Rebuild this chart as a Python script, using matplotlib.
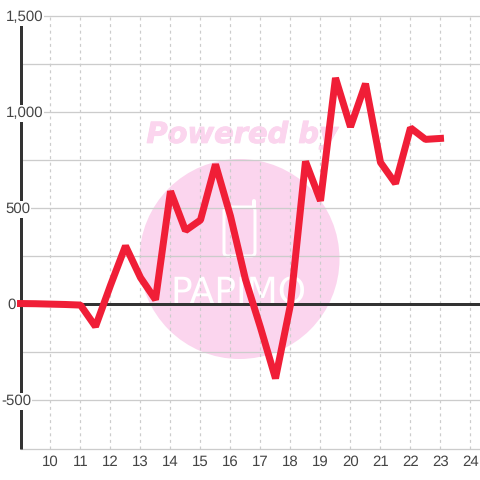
import matplotlib
matplotlib.use("Agg")
import matplotlib.pyplot as plt
import matplotlib.patheffects as pe
from matplotlib.patches import Ellipse, FancyBboxPatch
from matplotlib.lines import Line2D

hours = [9, 9.5, 10, 10.5, 11, 11.5, 12, 12.5, 13, 13.5, 14, 14.5, 15, 15.5, 16, 16.5,
         17, 17.5, 18, 18.5, 19, 19.5, 20, 20.5, 21, 21.5, 22, 22.5, 23]
values = [5, 4, 2, 0, -3, -115, 100, 305, 140, 25, 590, 385, 440, 730, 460, 130,
          -120, -385, 0, 745, 540, 1180, 925, 1150, 740, 630, 920, 860, 865]
x_ticks = list(range(10, 25))
y_grid = [-750, -500, -250, 0, 250, 500, 750, 1000, 1250, 1500]
y_labels = {1500: "1,500", 1000: "1,000", 500: "500", 0: "0", -500: "-500"}
y_label_right = {1500: 43, 1000: 43, 500: 30, 0: 16, -500: 31}

W = 480
LABEL = "#444444"
GRID = "#cccccc"
DARK = "#333333"
RED = "#f01e37"
PINK = "#fbd5ee"

plt.rcParams["font.family"] = ["Liberation Sans", "DejaVu Sans"]
plt.rcParams["text.hinting"] = "no_hinting"
plt.rcParams["text.hinting_factor"] = 1


def fx(px):
    return px / W


def fy(px):
    return 1 - px / W


def lw(px):
    return px * 72 / 100


fig = plt.figure(figsize=(4.8, 4.8), dpi=100, facecolor="white")
ax = fig.add_axes([fx(20.5), fy(448.5), fx(480 - 20.5), fx(448.5 - 16.5)])
ax.patch.set_visible(False)
ax.set_xlim(9, 24.317)
ax.set_ylim(-750, 1500)

# filigrane derriere le graphique
fig.add_artist(Ellipse((fx(239.5), fy(259)), fx(200), fx(200), transform=fig.transFigure,
                       facecolor=PINK, edgecolor="none", zorder=-3))
fig.text(fx(242.5), fy(135), "Powered by", family="DejaVu Sans", weight="bold", style="italic",
         size=20.8, color=PINK, ha="center", va="center", zorder=-3,
         path_effects=[pe.withStroke(linewidth=0.7, foreground=PINK)])
fig.text(fx(239), fy(303), "PAPIMO", family=["Liberation Sans Narrow", "DejaVu Sans"], size=26,
         color="white", ha="center", va="baseline", zorder=-2)
fig.add_artist(FancyBboxPatch((fx(224), fy(256)), fx(31), fx(49), boxstyle="round,pad=0,rounding_size=0.008",
                              transform=fig.transFigure, facecolor="none", edgecolor="white",
                              linewidth=lw(3), zorder=-2))
fig.add_artist(Line2D([fx(254.5), fx(254.5)], [fy(207), fy(201)], transform=fig.transFigure,
                      color="white", linewidth=lw(4), solid_capstyle="round", zorder=-2))

# grille
for v in y_grid:
    ax.axhline(v, color=GRID, linewidth=lw(1.3), zorder=1, clip_on=False)
for t in x_ticks:
    ax.axvline(t, color=GRID, linewidth=lw(1.2), dashes=(2.5, 3), zorder=1)
ax.axhline(0, color=DARK, linewidth=lw(3), zorder=2)

for s in ["top", "right", "bottom"]:
    ax.spines[s].set_visible(False)
ax.spines["left"].set_color(DARK)
ax.spines["left"].set_linewidth(lw(3))
ax.spines["left"].set_capstyle("butt")
ax.spines["left"].set_bounds(-750, 1458)
ax.spines["left"].set_zorder(3)

ax.plot(hours, values, color=RED, linewidth=lw(7), solid_joinstyle="bevel",
        solid_capstyle="projecting", zorder=4, clip_on=False)

ax.set_xticks(x_ticks)
ax.set_xticklabels([str(t) for t in x_ticks], fontsize=10.9, color=LABEL)
ax.tick_params(axis="x", length=0, pad=5)
ax.set_yticks([])

# etiquettes y : fond blanc qui coupe l'axe
trans = ax.get_yaxis_transform()
for v, txt in y_labels.items():
    ax.text((y_label_right[v] - 20.5) / (W - 20.5), v - 4, txt, transform=trans, fontsize=10.9, color=LABEL,
            ha="right", va="center", clip_on=False, zorder=5,
            bbox=dict(facecolor="white", edgecolor="none", pad=1))

fig.savefig("out.png", dpi=100)
